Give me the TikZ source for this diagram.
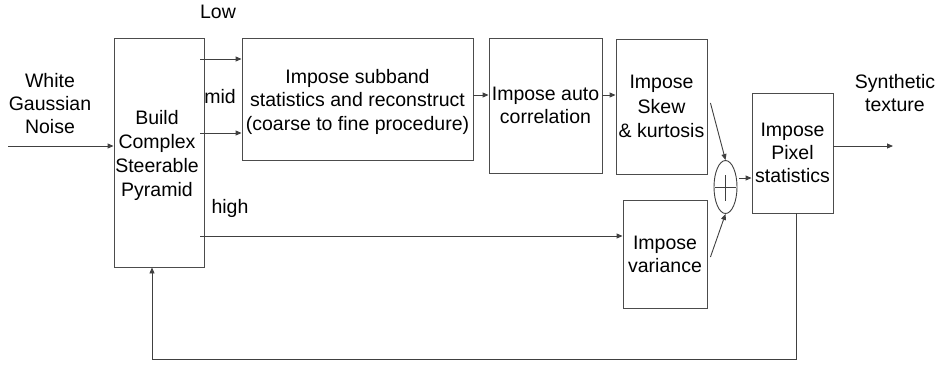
\documentclass[tikz,border=0pt]{standalone}
\usepackage{fontspec}
\setmainfont{Liberation Sans}
\usetikzlibrary{arrows.meta,shapes.geometric}
\begin{document}
\begin{tikzpicture}[x=1pt,y=-1pt,
  line width=0.9pt,
  box/.style={draw=black!70, inner sep=0pt, align=center, font=\fontsize{19.5}{23}\selectfont},
  lbl/.style={inner sep=0pt, align=center, font=\fontsize{19.5}{23}\selectfont},
  arr/.style={draw=black!75, -{Triangle[length=6pt,width=5pt]}},
  ln/.style={draw=black!75}]
\useasboundingbox (0,0) rectangle (937,368);

% processing blocks
\node[box, minimum width=90pt, minimum height=229pt] (Build) at (159,152.5) {};
\node[lbl, font=\fontsize{19.5}{23.7}\selectfont] (BuildTxt) at (157,155.5)
  {Build\\Complex\\Steerable\\Pyramid};
\node[box, minimum width=231pt, minimum height=122pt] (Sub) at (357.5,99) {};
\node[lbl, font=\fontsize{19.5}{23.5}\selectfont] (SubTxt) at (357.5,101.5)
  {Impose subband\\statistics and reconstruct\\(coarse to fine procedure)};
\node[box, minimum width=113pt, minimum height=135pt] (Auto) at (545.5,105.5)
  {Impose auto\\correlation};
\node[box, minimum width=91pt, minimum height=135pt, font=\fontsize{19.5}{24.5}\selectfont] (Skew) at (661.5,106.5)
  {Impose\\Skew\\\& kurtosis};
\node[box, minimum width=84pt, minimum height=108pt] (Var) at (665,254)
  {Impose\\variance};
\node[box, minimum width=81pt, minimum height=120pt] (Pix) at (792.5,153)
  {Impose\\Pixel\\statistics};

% summing junction
\node[ellipse, draw=black!75, minimum width=23pt, minimum height=53pt, inner sep=0pt] (Sum) at (725.5,187) {};
\draw[ln] (Sum.center) ++(0,-12) -- ++(0,26);
\draw[ln] (Sum.west) ++(1.5,0) -- ([xshift=-1.5pt]Sum.east);

% labels
\node[lbl] (Noise) at (50,104) {White\\Gaussian\\Noise};
\node[lbl] (Synth) at (895,93) {Synthetic\\texture};
\node[lbl] (Low) at (218,12) {Low};
\node[lbl] (Mid) at (220,97) {mid};
\node[lbl] (High) at (230,208) {high};

% helper rows
\coordinate (inL) at (8,146);
\coordinate (lowy) at (0,59);
\coordinate (midy) at (0,133);
\coordinate (highy) at (0,236);
\coordinate (chain) at (0,95);
\coordinate (out) at (893,146);
\coordinate (fb) at (0,359);

% connectors
\draw[arr] (inL) -- (Build.west |- inL);
\draw[arr] ([xshift=-4pt]Build.east |- lowy) -- (Sub.west |- lowy);
\draw[arr] ([xshift=-4pt]Build.east |- midy) -- (Sub.west |- midy);
\draw[arr] ([xshift=-4pt]Build.east |- highy) -- (Var.west |- highy);
\draw[arr] (Sub.east |- chain) -- (Auto.west |- chain);
\draw[arr] (Auto.east |- chain) -- (Skew.west |- chain);
\draw[arr] ([shift={(3pt,3.5pt)}]Skew.east) -- (Sum.north);
\draw[arr] ([shift={(3pt,-3pt)}]Var.east) -- (Sum.south);
\draw[arr] ([shift={(2pt,9pt)}]Sum.east) -- ([yshift=-25pt]Pix.west);
\draw[arr] (Pix.east |- out) -- (out);
\draw[arr] ([xshift=3.5pt]Pix.south) -- ([xshift=3.5pt]Pix.south |- fb)
  -- ([xshift=-7pt]Build.south |- fb) -- ([xshift=-7pt]Build.south);
\end{tikzpicture}
\end{document}
